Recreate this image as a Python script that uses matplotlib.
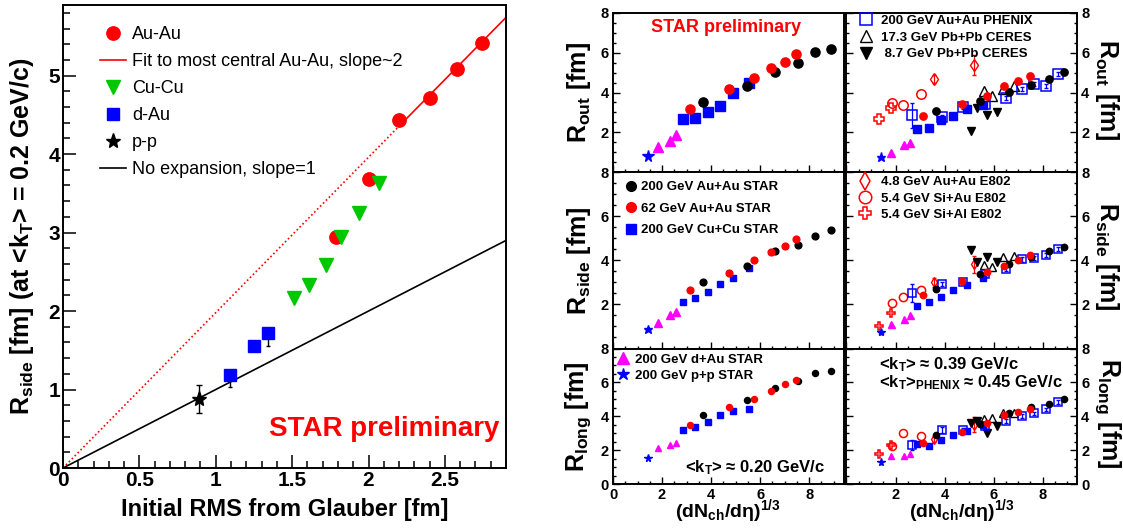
import numpy as np
import matplotlib
matplotlib.use("Agg")
import matplotlib.pyplot as plt
from matplotlib.gridspec import GridSpec
from matplotlib.lines import Line2D
from matplotlib.ticker import MultipleLocator, FuncFormatter

plt.rcParams['font.family'] = ['Liberation Sans', 'DejaVu Sans']
plt.rcParams['font.weight'] = 'bold'
plt.rcParams['axes.labelweight'] = 'bold'
plt.rcParams['mathtext.fontset'] = 'custom'
for k in ('rm', 'it', 'bf', 'sf'):
    plt.rcParams['mathtext.' + k] = 'Liberation Sans:bold'
plt.rcParams['axes.linewidth'] = 1.4

# ---------------- left panel: Rside (kT=0.2) vs initial RMS
auau_rms = [1.79, 2.00, 2.20, 2.40, 2.58, 2.74]
auau_rside = [2.95, 3.68, 4.44, 4.72, 5.09, 5.41]
cucu_rms = [1.51, 1.61, 1.72, 1.82, 1.94, 2.07]
cucu_rside = [2.16, 2.33, 2.59, 2.94, 3.25, 3.63]
dau_rms = [1.09, 1.25, 1.34]
dau_rside = [1.18, 1.55, 1.72]
dau_err_lo = [0.15, 0.0, 0.16]
pp_rms = [0.89]
pp_rside = [0.88]
pp_err = [0.18]
fit_slope = 1.98      # fit to most central Au-Au
fit_break = 2.2       # solid above, dotted extrapolation below
noexp_slope = 1.0
rms_max = 2.9

# ---------------- right panels: HBT radii vs (dNch/deta)^(1/3)
radii = ['out', 'side', 'long']

# STAR, left column <kT>~0.20, right column <kT>~0.39
auau200_x = [3.65, 5.46, 6.62, 7.54, 8.25, 8.88]
auau200_lo = {'out': [3.51, 4.31, 5.05, 5.47, 6.02, 6.20],
              'side': [3.00, 3.75, 4.40, 4.68, 5.10, 5.39],
              'long': [4.08, 4.96, 5.69, 6.09, 6.58, 6.70]}
auau200_hi = {'out': [3.09, 3.59, 4.04, 4.38, 4.66, 5.01],
              'side': [2.68, 3.37, 3.85, 4.13, 4.40, 4.61],
              'long': [2.89, 3.54, 4.17, 4.53, 4.73, 5.04]}

auau62_x = [3.14, 4.73, 5.73, 6.43, 7.00, 7.48]
auau62_lo = {'out': [3.19, 4.18, 4.74, 5.22, 5.55, 5.92],
             'side': [2.66, 3.43, 3.99, 4.38, 4.65, 4.98],
             'long': [3.49, 4.53, 5.00, 5.52, 5.93, 6.13]}
auau62_hi = {'out': [2.82, 3.42, 3.81, 4.31, 4.59, 4.83],
             'side': [2.41, 3.05, 3.45, 3.72, 4.00, 4.24],
             'long': [2.44, 3.07, 3.58, 4.08, 4.24, 4.45]}

cucu_x = [2.87, 3.36, 3.86, 4.36, 4.90, 5.55]
cucu_lo = {'out': [2.65, 2.72, 3.02, 3.34, 3.96, 4.46],
           'side': [2.12, 2.30, 2.54, 2.92, 3.21, 3.63],
           'long': [3.19, 3.37, 3.66, 4.08, 4.33, 4.45]}
cucu_hi = {'out': [2.18, 2.23, 2.60, 2.84, 3.15, 3.37],
           'side': [1.92, 2.10, 2.33, 2.65, 2.87, 3.18],
           'long': [2.34, 2.24, 2.60, 2.87, 3.15, 3.47]}

dau_x = [1.82, 2.33, 2.58]
dau_lo = {'out': [1.28, 1.58, 1.88], 'side': [1.14, 1.52, 1.65], 'long': [2.10, 2.30, 2.44]}
dau_hi = {'out': [0.94, 1.35, 1.48], 'side': [1.09, 1.32, 1.50], 'long': [1.65, 1.65, 1.77]}

pp_x = [1.42]
pp_lo = {'out': [0.81], 'side': [0.87], 'long': [1.55]}
pp_hi = {'out': [0.74], 'side': [0.73], 'long': [1.30]}

# other experiments (right column)
phenix_x = [2.66, 3.90, 4.76, 5.65, 6.50, 7.15, 7.64, 8.14, 8.64]
phenix = {'out': [2.85, 2.75, 3.26, 3.42, 3.72, 4.16, 4.43, 4.33, 4.91],
          'side': [2.53, 2.92, 3.01, 3.36, 3.61, 4.04, 4.11, 4.23, 4.52],
          'long': [2.30, 3.19, 3.19, 3.43, 3.72, 4.02, 4.18, 4.41, 4.83]}
phenix_err = {'out': [0.63, 0.1, 0.1, 0.1, 0.1, 0.1, 0.1, 0.1, 0.1],
              'side': [0.40, 0.1, 0.1, 0.1, 0.1, 0.1, 0.1, 0.1, 0.1],
              'long': [0.30, 0.15, 0.1, 0.1, 0.1, 0.1, 0.1, 0.1, 0.1]}
ceres17_x = [5.60, 5.92, 6.37, 6.83]
ceres17 = {'out': [4.09, 3.82, 4.16, 4.33], 'side': [3.78, 3.70, 4.13, 4.19],
           'long': [3.82, 3.88, 4.21, 4.18]}
ceres8_x = [5.06, 5.33, 5.72, 6.12]
ceres8 = {'out': [2.08, 3.20, 2.87, 3.04], 'side': [4.46, 3.93, 4.13, 3.93],
          'long': [3.62, 3.74, 2.99, 3.43]}
e802auau_x = [3.55, 5.18]
e802auau = {'out': [4.68, 5.38], 'side': [3.00, 3.81], 'long': [2.64, 3.50]}
e802auau_err = {'out': [0.2, 0.5], 'side': [0.2, 0.4], 'long': [0.15, 0.45]}
e802siau_x = [1.87, 2.30, 3.03]
e802siau = {'out': [3.49, 3.36, 3.91], 'side': [2.07, 2.32, 2.65], 'long': [2.26, 2.99, 2.83]}
e802sial_x = [1.33, 1.80]
e802sial = {'out': [2.65, 3.21], 'side': [1.02, 1.62], 'long': [1.75, 2.30]}

W, H = 1123.0, 529.0
fig = plt.figure(figsize=(W / 100, H / 100), dpi=100)

# ======================= left panel
axL = fig.add_axes([63 / W, 1 - 468 / H, 443 / W, 463 / H])
green = '#00c800'
xa = np.array([0, fit_break])
xb = np.array([fit_break, rms_max])
axL.plot(xa, fit_slope * xa, color='red', lw=1.2, ls=(0, (1, 1.5)))
h_fit, = axL.plot(xb, fit_slope * xb, color='red', lw=1.2,
                  label='Fit to most central Au-Au, slope~2')
xn = np.array([0, rms_max])
h_noexp, = axL.plot(xn, noexp_slope * xn, color='black', lw=1.2,
                    label='No expansion, slope=1')
axL.errorbar(dau_rms, dau_rside, yerr=[dau_err_lo, [0, 0, 0]], fmt='none',
             ecolor='black', elinewidth=1, capsize=1.5)
axL.errorbar(pp_rms, pp_rside, yerr=pp_err, fmt='none', ecolor='black',
             elinewidth=1, capsize=2)
h_au, = axL.plot(auau_rms, auau_rside, 'o', color='red', ms=9.6, mec='red', label='Au-Au')
h_cu, = axL.plot(cucu_rms, cucu_rside, 'v', color=green, ms=9.5, mec=green, label='Cu-Cu')
h_da, = axL.plot(dau_rms, dau_rside, 's', color='blue', ms=8.6, mec='blue', label='d-Au')
h_pp, = axL.plot(pp_rms, pp_rside, '*', color='black', ms=11, label='p-p')

axL.set_xlim(0, rms_max)
axL.set_ylim(0, 5.9)
axL.xaxis.set_major_locator(MultipleLocator(0.5))
axL.xaxis.set_minor_locator(MultipleLocator(0.1))
axL.yaxis.set_major_locator(MultipleLocator(1))
axL.yaxis.set_minor_locator(MultipleLocator(0.2))
fmt_g = FuncFormatter(lambda v, p: '%g' % v)
axL.xaxis.set_major_formatter(fmt_g)
axL.yaxis.set_major_formatter(fmt_g)
axL.tick_params(which='both', direction='in', top=False, right=False, labelsize=15, pad=2)
axL.tick_params(which='major', length=9.5, width=1.1)
axL.tick_params(which='minor', length=5, width=1.1)
axL.set_xlabel('Initial RMS from Glauber [fm]', fontsize=17)
axL.xaxis.set_label_coords(0.5, -0.065)
axL.set_ylabel('R$_{side}$ [fm] (at <k$_{T}$> = 0.2 GeV/c)', fontsize=18)
axL.yaxis.set_label_coords(-0.06, 0.5)
axL.legend(handles=[h_au, h_fit, h_cu, h_da, h_pp, h_noexp], loc='upper left',
           bbox_to_anchor=(0.083, 0.955), borderaxespad=0, borderpad=0, frameon=False,
           numpoints=1, handlelength=1.45, handletextpad=0.35, labelspacing=0.56,
           prop=dict(size=13, weight='normal'))
axL.text(0.984, 0.069, 'STAR preliminary', transform=axL.transAxes, ha='right',
         va='baseline', color='red', fontsize=20)

# ======================= right 3x2 grid
gs = GridSpec(3, 2, figure=fig, left=613 / W, right=1077 / W, top=1 - 13 / H,
              bottom=1 - 484 / H, wspace=0.013, hspace=0,
              height_ratios=[159, 176.5, 135.5])

size_scale = [[1.0, 0.8], [0.74, 0.7], [0.66, 0.68]]

star_series = [
    ('cucu', cucu_x, cucu_lo, cucu_hi, dict(marker='s', color='blue', mfc='blue', ms=6.5)),
    ('dau', dau_x, dau_lo, dau_hi, dict(marker='^', color='magenta', mfc='magenta', ms=7.2)),
    ('pp', pp_x, pp_lo, pp_hi, dict(marker='*', color='blue', mfc='blue', ms=8.5)),
    ('auau200', auau200_x, auau200_lo, auau200_hi, dict(marker='o', color='black', mfc='black', ms=6.6)),
    ('auau62', auau62_x, auau62_lo, auau62_hi, dict(marker='o', color='red', mfc='red', ms=6.6)),
]
other_series = [
    ('e802sial', e802sial_x, e802sial, None, dict(marker='P', color='red', mfc='none', ms=8.5, mew=1.1)),
    ('e802siau', e802siau_x, e802siau, None, dict(marker='o', color='red', mfc='none', ms=8.5, mew=1.1)),
    ('e802auau', e802auau_x, e802auau, e802auau_err, dict(marker='d', color='red', mfc='none', ms=7.5, mew=1.0)),
    ('ceres8', ceres8_x, ceres8, None, dict(marker='v', color='black', mfc='black', ms=7.5)),
    ('ceres17', ceres17_x, ceres17, None, dict(marker='^', color='black', mfc='none', ms=9, mew=1.0)),
    ('phenix', phenix_x, phenix, phenix_err, dict(marker='s', color='blue', mfc='none', ms=8.5, mew=1.1)),
]

legend_style = {
    'auau200': ('200 GeV Au+Au STAR', dict(marker='o', color='black', mfc='black', ms=7)),
    'auau62': ('62 GeV Au+Au STAR', dict(marker='o', color='red', mfc='red', ms=7)),
    'cucu': ('200 GeV Cu+Cu STAR', dict(marker='s', color='blue', mfc='blue', ms=6.5)),
    'dau': ('200 GeV d+Au STAR', dict(marker='^', color='magenta', mfc='magenta', ms=8)),
    'pp': ('200 GeV p+p STAR', dict(marker='*', color='blue', mfc='blue', ms=9)),
    'phenix': ('200 GeV Au+Au PHENIX', dict(marker='s', color='blue', mfc='none', ms=8, mew=1.1)),
    'ceres17': ('17.3 GeV Pb+Pb CERES', dict(marker='^', color='black', mfc='none', ms=9, mew=1.0)),
    'ceres8': (' 8.7 GeV Pb+Pb CERES', dict(marker='v', color='black', mfc='black', ms=8.5)),
    'e802auau': ('4.8 GeV Au+Au E802', dict(marker='d', color='red', mfc='none', ms=9, mew=1.1)),
    'e802siau': ('5.4 GeV Si+Au E802', dict(marker='o', color='red', mfc='none', ms=9, mew=1.1)),
    'e802sial': ('5.4 GeV Si+Al E802', dict(marker='P', color='red', mfc='none', ms=9, mew=1.1)),
}


def add_legend(ax, names, anchor, spacing, textpad):
    hs = [Line2D([], [], ls='none', **legend_style[n][1]) for n in names]
    ax.legend(hs, [legend_style[n][0] for n in names], loc='upper left',
              bbox_to_anchor=anchor, borderaxespad=0, borderpad=0, frameon=False,
              handlelength=1.0, handletextpad=textpad, labelspacing=spacing,
              prop=dict(size=9.5, weight='bold'))


hide_zero = FuncFormatter(lambda v, p: '' if v == 0 else '%g' % v)
labels = {'out': 'R$_{out}$ [fm]', 'side': 'R$_{side}$ [fm]', 'long': 'R$_{long}$ [fm]'}

for row, key in enumerate(radii):
    for col in range(2):
        ax = fig.add_subplot(gs[row, col])
        s = size_scale[row][col]
        if col == 1:
            for name, x, ys, err, st in other_series:
                st = dict(st)
                st['ms'] = st['ms'] * s
                if err is not None:
                    ax.errorbar(x, ys[key], yerr=err[key], fmt='none', ecolor=st['color'],
                                elinewidth=0.9, capsize=1.2)
                ax.plot(x, ys[key], ls='none', **st)
        for name, x, ylo, yhi, st in star_series:
            st = dict(st)
            st['ms'] = st['ms'] * s
            yv = ylo if col == 0 else yhi
            ax.plot(x, yv[key], ls='none', **st)

        ax.set_xlim(0, 9.4)
        ax.set_ylim(0, 8)
        ax.xaxis.set_major_locator(MultipleLocator(2))
        ax.xaxis.set_minor_locator(MultipleLocator(0.5))
        ax.yaxis.set_major_locator(MultipleLocator(2))
        ax.yaxis.set_minor_locator(MultipleLocator(0.5))
        ax.tick_params(which='both', direction='in', top=False, bottom=True, left=True,
                       right=(col == 1), labelleft=(col == 0), labelright=(col == 1),
                       labelbottom=(row == 2), labelsize=10.5, pad=3)
        ax.tick_params(which='major', length=5, width=1)
        ax.tick_params(which='minor', length=2.5, width=1)
        if row < 2:
            ax.yaxis.set_major_formatter(hide_zero)
        else:
            ax.yaxis.set_major_formatter(fmt_g)
        if col == 1:
            ax.xaxis.set_major_formatter(hide_zero)
            ax.yaxis.set_label_position('right')
            ax.set_ylabel(labels[key], fontsize=18, rotation=-90, va='bottom')
            ax.yaxis.set_label_coords(1.07, 0.52)
        else:
            ax.xaxis.set_major_formatter(fmt_g)
            ax.set_ylabel(labels[key], fontsize=18)
            ax.yaxis.set_label_coords(-0.088, 0.5)
        if row == 2:
            ax.set_xlabel('(dN$_{ch}$/dη)$^{1/3}$', fontsize=14)
            ax.xaxis.set_label_coords(0.5, -0.1)

        if (row, col) == (0, 0):
            ax.text(0.49, 0.879, 'STAR preliminary', transform=ax.transAxes, ha='center',
                    va='baseline', color='red', fontsize=13)
        elif (row, col) == (0, 1):
            add_legend(ax, ['phenix', 'ceres17', 'ceres8'], (0.057, 0.99), 0.34, 0.64)
        elif (row, col) == (1, 0):
            add_legend(ax, ['auau200', 'auau62', 'cucu'], (0.049, 0.949), 0.71, 0.3)
        elif (row, col) == (1, 1):
            add_legend(ax, ['e802auau', 'e802siau', 'e802sial'], (0.05, 0.976), 0.29, 0.76)
        elif (row, col) == (2, 0):
            add_legend(ax, ['dau', 'pp'], (0.016, 0.962), 0.29, 0.39)
            ax.text(0.312, 0.085, '<k$_{T}$> ≈ 0.20 GeV/c', transform=ax.transAxes,
                    va='baseline', fontsize=12)
        else:
            ax.text(0.143, 0.846, '<k$_{T}$> ≈ 0.39 GeV/c', transform=ax.transAxes,
                    va='baseline', fontsize=12)
            ax.text(0.143, 0.714, '<k$_{T}$>$_{PHENIX}$ ≈ 0.45 GeV/c', transform=ax.transAxes,
                    va='baseline', fontsize=12)

fig.savefig('out.png', dpi=100)
